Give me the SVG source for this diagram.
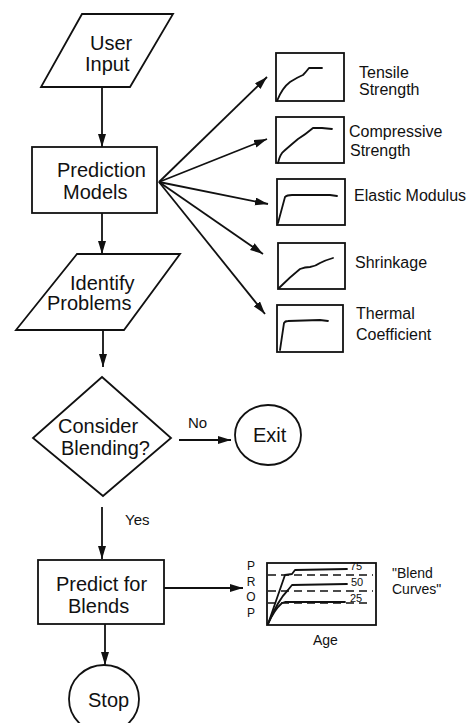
<svg xmlns="http://www.w3.org/2000/svg" width="468" height="723" viewBox="0 0 468 723">
<defs>
<marker id="ah" markerUnits="userSpaceOnUse" markerWidth="14" markerHeight="10" refX="13" refY="4" orient="auto">
<path d="M0,0 L13,4 L0,8 Z" fill="#111"/>
</marker>
<style>
.s{fill:none;stroke:#111;stroke-width:1.8}
.c{fill:none;stroke:#111;stroke-width:1.8;stroke-linejoin:round;stroke-linecap:round}
.a{fill:none;stroke:#111;stroke-width:1.8;marker-end:url(#ah)}
.d{fill:none;stroke:#111;stroke-width:1.6;stroke-dasharray:8 5}
text{font-family:"Liberation Sans",Arial,sans-serif;fill:#111}
.t{font-size:20px}
.m{font-size:16px}
.n{font-size:15px}
.k{font-size:11px}
</style>
</defs>
<rect width="468" height="723" fill="#fff"/>

<g id="user-input">
<polygon class="s" points="82,14 173,14 130,87 41,87"/>
<text class="t" x="90" y="50">User</text>
<text class="t" x="85" y="71">Input</text>
</g>

<g id="prediction-models">
<rect class="s" x="32" y="147" width="125" height="66"/>
<text class="t" x="57" y="177">Prediction</text>
<text class="t" x="63" y="199">Models</text>
</g>

<g id="identify-problems">
<polygon class="s" points="77,254 180,254 124,330 16,330"/>
<text class="t" x="70" y="290">Identify</text>
<text class="t" x="47" y="310">Problems</text>
</g>

<g id="consider-blending">
<polygon class="s" points="102,377 171,438 103,496 33,438"/>
<text class="t" x="58" y="433">Consider</text>
<text class="t" x="61" y="455">Blending?</text>
</g>

<g id="exit">
<ellipse class="s" cx="268" cy="435" rx="33" ry="30"/>
<text class="t" x="253" y="442">Exit</text>
</g>

<g id="predict-blends">
<rect class="s" x="38" y="560" width="126" height="64"/>
<text class="t" x="56" y="591">Predict for</text>
<text class="t" x="68" y="613">Blends</text>
</g>

<g id="stop">
<ellipse class="s" cx="104" cy="699" rx="35" ry="34"/>
<text class="t" x="88" y="707">Stop</text>
</g>

<g id="tensile-strength">
<rect class="s" x="276" y="53" width="68" height="48"/>
<path class="c" d="M277,101 Q282,88 290,82 Q298,77 303,75 Q306,72 309,68 L322,68"/>
<text class="m" x="359" y="78">Tensile</text>
<text class="m" x="359" y="95">Strength</text>
</g>

<g id="compressive-strength">
<rect class="s" x="276" y="117" width="68" height="46"/>
<path class="c" d="M278,163 Q280,154 284,151 Q292,144 298,139 Q306,134 313,128 L322,128 L332,129"/>
<text class="m" x="349" y="137">Compressive</text>
<text class="m" x="350" y="156">Strength</text>
</g>

<g id="elastic-modulus">
<rect class="s" x="277" y="179" width="68" height="46"/>
<path class="c" d="M278,223 L285,197 Q287,195 292,195 L330,195 L337,196"/>
<text class="m" x="354" y="201">Elastic Modulus</text>
</g>

<g id="shrinkage">
<rect class="s" x="278" y="243" width="67" height="46"/>
<path class="c" d="M279,288 Q290,277 300,269 Q305,267 310,267 Q316,266 320,263 Q326,260 333,258"/>
<text class="m" x="355" y="268">Shrinkage</text>
</g>

<g id="thermal-coefficient">
<rect class="s" x="277" y="305" width="66" height="47"/>
<path class="c" d="M280,350 L284,323 Q285,321 288,321 L320,320 L328,321"/>
<text class="m" x="356" y="319">Thermal</text>
<text class="m" x="356" y="340">Coefficient</text>
</g>

<g id="blend-curves">
<rect class="s" x="267" y="563" width="109" height="62"/>
<line class="d" x1="268" y1="575" x2="373" y2="575"/>
<line class="d" x1="268" y1="591" x2="373" y2="591"/>
<line class="d" x1="268" y1="603" x2="371" y2="603"/>
<path class="c" d="M268,624 L285,575 L292,574 L295,570 L347,569"/>
<path class="c" d="M268,624 Q278,600 288,590 L292,585 L347,584"/>
<path class="c" d="M268,624 Q274,610 282,603 L285,602 L345,602"/>
<text class="k" x="350" y="570">75</text>
<text class="k" x="351" y="586">50</text>
<text class="k" x="350" y="602">25</text>
<text style="font-size:12px" x="251" y="570" text-anchor="middle">P</text>
<text style="font-size:12px" x="251" y="586" text-anchor="middle">R</text>
<text style="font-size:12px" x="251" y="601" text-anchor="middle">O</text>
<text style="font-size:12px" x="251" y="617" text-anchor="middle">P</text>
<text style="font-size:14px" x="313" y="645">Age</text>
<text style="font-size:14px" x="392" y="578">"Blend</text>
<text style="font-size:14px" x="392" y="594">Curves"</text>
</g>

<g id="connectors">
<line class="a" x1="102" y1="87" x2="102" y2="147"/>
<line class="a" x1="102" y1="213" x2="102" y2="254"/>
<line class="a" x1="103" y1="330" x2="103" y2="367"/>
<line class="a" x1="179" y1="440" x2="231" y2="440"/>
<line class="a" x1="102" y1="507" x2="102" y2="559"/>
<line class="a" x1="164" y1="588" x2="243" y2="588"/>
<line class="a" x1="105" y1="624" x2="105" y2="665"/>
<line class="a" x1="159" y1="182" x2="267" y2="77"/>
<line class="a" x1="159" y1="182" x2="267" y2="139"/>
<line class="a" x1="159" y1="182" x2="268" y2="204"/>
<line class="a" x1="159" y1="182" x2="263" y2="254"/>
<line class="a" x1="159" y1="182" x2="265" y2="314"/>
<text class="n" x="188" y="428">No</text>
<text class="n" x="125" y="525">Yes</text>
</g>
</svg>
